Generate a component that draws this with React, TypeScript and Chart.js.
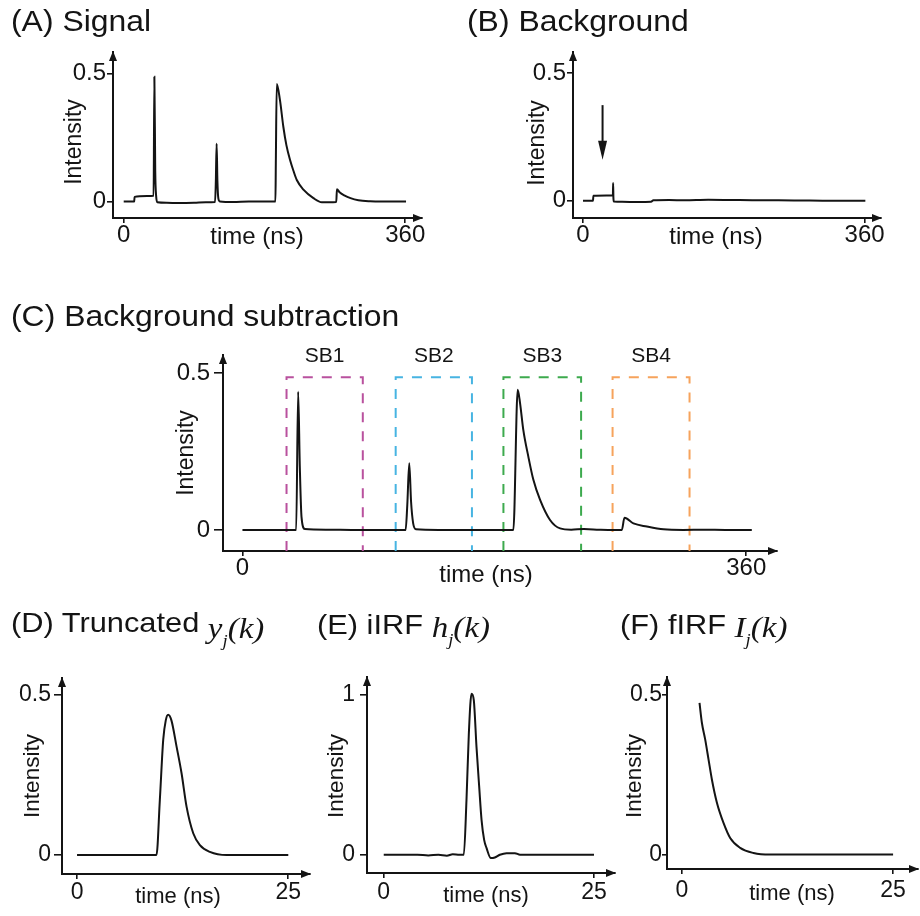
import React, { useEffect, useRef } from 'react';
import { Chart, registerables } from 'chart.js';

Chart.register(...registerables);

const SANS = '"Liberation Sans", Arial, Helvetica, sans-serif';
const SERIF = '"Liberation Serif", "Times New Roman", serif';
const INK = '#141414';

// ---------- data ----------
// (A) Signal
const signalTime = [0, 13.5, 13.8, 30, 38.2, 39.2, 40.3, 41.5, 43, 55, 70, 90, 105, 116.8, 117.8, 118.8, 119.8, 121, 123, 140, 160, 180, 194, 194.5, 195.7, 199.8, 204.1, 208, 212.7, 217, 221.3, 229.8, 242.6, 253.3, 262, 271.8, 272.6, 276, 282, 290, 300, 315, 330, 361];
const signalValue = [0, 0, 0.018, 0.021, 0.022, 0.487, 0.12, 0.02, -0.003, -0.005, -0.006, -0.005, -0.003, -0.002, 0.08, 0.226, 0.08, 0.012, 0, -0.002, 0, 0, 0, 0.15, 0.459, 0.396, 0.292, 0.22, 0.162, 0.12, 0.084, 0.046, 0.013, -0.003, -0.003, -0.002, 0.048, 0.036, 0.024, 0.013, 0.005, 0.001, 0, 0];

// (B) Background
const bgTime = [0, 12.8, 13.2, 30, 38.2, 38.5, 38.9, 39.4, 50, 70, 87, 90, 110, 130, 160, 190, 220, 250, 280, 310, 340, 361];
const bgValue = [0, 0, 0.0195, 0.021, 0.021, 0.069, 0.01, -0.003, -0.004, -0.005, -0.004, 0.002, 0.003, 0.002, 0.004, 0.003, 0.002, 0.002, 0.001, 0, 0, 0];
const bgArrowTime = 25;
const bgArrowFrom = 0.374;
const bgArrowTo = 0.16;

// (C) Background subtraction
const subTime = [0, 20, 38.4, 39.8, 41, 42.2, 44.6, 60, 80, 100, 116.6, 117.8, 119.2, 120.5, 122, 124, 140, 160, 180, 193.6, 196.7, 198.4, 200.7, 204.3, 207.9, 212.7, 219.8, 227, 235, 244, 255, 265, 271.1, 273, 279.4, 289, 300.9, 315, 330, 345, 364];
const subValue = [0, 0, 0, 0.441, 0.2, 0.042, 0.003, 0.001, 0, 0, 0, 0.08, 0.213, 0.09, 0.021, 0.002, 0, 0, 0, 0, 0.447, 0.404, 0.319, 0.234, 0.16, 0.096, 0.032, 0.005, 0.001, 0.003, 0.001, 0, 0, 0.039, 0.021, 0.011, 0.002, 0, 0.001, 0, 0];
const sbLabels = ['SB1', 'SB2', 'SB3', 'SB4'];
const sbStart = [31.5, 109.5, 186.5, 264.5];
const sbEnd = [86, 164, 242, 319.5];
const sbTop = 0.487;
const sbColors = ['#b9519e', '#47b4e2', '#3daa4e', '#f6a35c'];

// (D) Truncated y_j(k)
const truncTime = [0, 9.4, 9.8, 10.2, 10.5, 10.78, 11.17, 11.78, 12.37, 12.96, 13.75, 14.54, 15.72, 17.7, 20, 22.5, 25];
const truncValue = [0, 0, 0.172, 0.36, 0.42, 0.4375, 0.42, 0.338, 0.255, 0.151, 0.068, 0.031, 0.01, 0, 0, 0, 0];

// (E) iIRF h_j(k)
const iirfTime = [0, 4, 5.3, 6.5, 7.5, 8.2, 9.0, 9.52, 9.84, 10.12, 10.44, 10.71, 11.03, 11.35, 11.63, 11.94, 12.23, 12.74, 13.21, 13.81, 14.6, 15.6, 16.2, 20, 25];
const iirfValue = [0, 0, -0.004, 0, -0.006, 0.003, 0, 0, 0.342, 0.757, 1.006, 0.965, 0.674, 0.425, 0.218, 0.093, 0.041, -0.021, -0.017, 0.0, 0.01, 0.01, 0, 0, 0];

// (F) fIRF I_j(k)
const firfTime = [2.08, 2.36, 2.75, 3.15, 3.55, 4.14, 4.92, 5.71, 6.89, 8.47, 10.4, 15, 20, 25];
const firfValue = [0.474, 0.412, 0.36, 0.297, 0.234, 0.162, 0.099, 0.052, 0.021, 0.005, 0, 0, 0, 0];

// ticks
const longTicks = [0, 360];
const longTickLabels = ['0', '360'];
const shortTicks = [0, 25];
const shortTickLabels = ['0', '25'];
const halfTicks = [0, 0.5];
const halfTickLabels = ['0', '0.5'];
const unitTicks = [0, 1];
const unitTickLabels = ['0', '1'];
const xAxisTitle = 'time (ns)';
const yAxisTitle = 'Intensity';

// ---------- plugin ----------
const decoPlugin = {
  id: 'deco',
  afterDraw(chart: any, _args: any, o: any) {
    const { ctx, chartArea: ca, scales } = chart;
    const xs = scales.x;
    const ys = scales.y;
    ctx.save();
    ctx.fillStyle = INK;
    ctx.strokeStyle = INK;
    // axis arrowheads
    ctx.beginPath();
    ctx.moveTo(ca.right + 1, ca.bottom);
    ctx.lineTo(ca.right - 9, ca.bottom - 4);
    ctx.lineTo(ca.right - 9, ca.bottom + 4);
    ctx.closePath();
    ctx.fill();
    ctx.beginPath();
    ctx.moveTo(ca.left, ca.top - 1);
    ctx.lineTo(ca.left - 4, ca.top + 9);
    ctx.lineTo(ca.left + 4, ca.top + 9);
    ctx.closePath();
    ctx.fill();
    // axis titles
    ctx.textAlign = 'center';
    ctx.textBaseline = 'middle';
    ctx.font = `${o.xTitleSize}px ${SANS}`;
    ctx.fillText(o.xTitle, o.xTitleX, o.xTitleY);
    ctx.save();
    ctx.translate(o.yTitleX, o.yTitleY);
    ctx.rotate(-Math.PI / 2);
    ctx.font = `${o.yTitleSize}px ${SANS}`;
    ctx.fillText(o.yTitle, 0, 0);
    ctx.restore();
    // box labels
    if (o.boxes) {
      ctx.font = `${o.boxes.size}px ${SANS}`;
      o.boxes.labels.forEach((lab: string, i: number) => {
        const cx = (xs.getPixelForValue(o.boxes.start[i]) + xs.getPixelForValue(o.boxes.end[i])) / 2;
        const cy = ys.getPixelForValue(o.boxes.top) - o.boxes.gap;
        ctx.fillText(lab, cx, cy);
      });
    }
    // annotation arrow
    if (o.arrow) {
      const ax = xs.getPixelForValue(o.arrow.t);
      const y1 = ys.getPixelForValue(o.arrow.from);
      const y2 = ys.getPixelForValue(o.arrow.to);
      const hl = 19;
      ctx.lineWidth = 2;
      ctx.beginPath();
      ctx.moveTo(ax, y1);
      ctx.lineTo(ax, y2 - hl + 2);
      ctx.stroke();
      ctx.beginPath();
      ctx.moveTo(ax, y2);
      ctx.lineTo(ax - 4.5, y2 - hl);
      ctx.lineTo(ax + 4.5, y2 - hl);
      ctx.closePath();
      ctx.fill();
    }
    ctx.restore();
  },
};

// ---------- panels ----------
type Panel = {
  key: string;
  time: number[];
  value: number[];
  area: { l: number; t: number; r: number; b: number };
  x: { min: number; max: number; ticks: number[]; labels: string[] };
  y: { min: number; max: number; ticks: number[]; labels: string[] };
  tickSize: number;
  xPad: number;
  xTickLen: number;
  yPad: number;
  yTickLen: number;
  deco: any;
  boxes?: boolean;
};

const panels: Panel[] = [
  {
    key: 'A', time: signalTime, value: signalValue,
    area: { l: 113, t: 52, r: 422, b: 218 },
    x: { min: -13.7, max: 381.4, ticks: longTicks, labels: longTickLabels },
    y: { min: -0.0646, max: 0.5841, ticks: halfTicks, labels: halfTickLabels },
    tickSize: 24, xPad: 0, xTickLen: 5, yPad: 1, yTickLen: 6,
    deco: { xTitle: xAxisTitle, xTitleX: 257, xTitleY: 237, xTitleSize: 24, yTitle: yAxisTitle, yTitleX: 75, yTitleY: 142, yTitleSize: 23 },
  },
  {
    key: 'B', time: bgTime, value: bgValue,
    area: { l: 573, t: 52, r: 881, b: 218 },
    x: { min: -12.8, max: 381, ticks: longTicks, labels: longTickLabels },
    y: { min: -0.0674, max: 0.5818, ticks: halfTicks, labels: halfTickLabels },
    tickSize: 24, xPad: 0, xTickLen: 5, yPad: 1, yTickLen: 6,
    deco: {
      xTitle: xAxisTitle, xTitleX: 716, xTitleY: 237, xTitleSize: 24, yTitle: yAxisTitle, yTitleX: 538, yTitleY: 143, yTitleSize: 23,
      arrow: { t: bgArrowTime, from: bgArrowFrom, to: bgArrowTo },
    },
  },
  {
    key: 'C', time: subTime, value: subValue,
    area: { l: 223, t: 355, r: 777, b: 551 },
    x: { min: -13.9, max: 382, ticks: longTicks, labels: longTickLabels },
    y: { min: -0.067, max: 0.558, ticks: halfTicks, labels: halfTickLabels },
    tickSize: 24, xPad: 0, xTickLen: 5, yPad: 4, yTickLen: 9,
    boxes: true,
    deco: {
      xTitle: xAxisTitle, xTitleX: 486, xTitleY: 575, xTitleSize: 24, yTitle: yAxisTitle, yTitleX: 187, yTitleY: 453, yTitleSize: 23,
      boxes: { labels: sbLabels, start: sbStart, end: sbEnd, top: sbTop, gap: 21, size: 21 },
    },
  },
  {
    key: 'D', time: truncTime, value: truncValue,
    area: { l: 62, t: 678, r: 310, b: 874 },
    x: { min: -1.78, max: 27.57, ticks: shortTicks, labels: shortTickLabels },
    y: { min: -0.059, max: 0.552, ticks: halfTicks, labels: halfTickLabels },
    tickSize: 23, xPad: 2, xTickLen: 5, yPad: 3, yTickLen: 8,
    deco: { xTitle: xAxisTitle, xTitleX: 178, xTitleY: 897, xTitleSize: 22, yTitle: yAxisTitle, yTitleX: 33, yTitleY: 776, yTitleSize: 22.5 },
  },
  {
    key: 'E', time: iirfTime, value: iirfValue,
    area: { l: 367, t: 677, r: 615, b: 873 },
    x: { min: -1.99, max: 27.5, ticks: shortTicks, labels: shortTickLabels },
    y: { min: -0.114, max: 1.11, ticks: unitTicks, labels: unitTickLabels },
    tickSize: 23, xPad: 3, xTickLen: 5, yPad: 5, yTickLen: 7,
    deco: { xTitle: xAxisTitle, xTitleX: 486, xTitleY: 896, xTitleSize: 22, yTitle: yAxisTitle, yTitleX: 337, yTitleY: 776, yTitleSize: 22.5 },
  },
  {
    key: 'F', time: firfTime, value: firfValue,
    area: { l: 667, t: 677, r: 918, b: 869 },
    x: { min: -1.77, max: 27.95, ticks: shortTicks, labels: shortTickLabels },
    y: { min: -0.045, max: 0.555, ticks: halfTicks, labels: halfTickLabels },
    tickSize: 23, xPad: 5, xTickLen: 5, yPad: 0, yTickLen: 5,
    deco: { xTitle: xAxisTitle, xTitleX: 792, xTitleY: 894, xTitleSize: 22, yTitle: yAxisTitle, yTitleX: 635, yTitleY: 776, yTitleSize: 22.5 },
  },
];

const W = 920;
const H = 916;
const Y_BOX = 58;
const X_BOX = 40;

function makeConfig(p: Panel): any {
  const datasets: any[] = [
    {
      data: p.time.map((t, i) => ({ x: t, y: p.value[i] })),
      borderColor: INK,
      borderWidth: 2,
      pointRadius: 0,
      fill: false,
      cubicInterpolationMode: 'monotone',
      order: 0,
    },
  ];
  if (p.boxes) {
    sbLabels.forEach((_l, i) => {
      datasets.push({
        data: [
          { x: sbStart[i], y: p.y.min },
          { x: sbStart[i], y: sbTop },
          { x: sbEnd[i], y: sbTop },
          { x: sbEnd[i], y: p.y.min },
        ],
        borderColor: sbColors[i],
        borderWidth: 2,
        borderDash: [10, 9],
        pointRadius: 0,
        fill: false,
        tension: 0,
        order: 1,
      });
    });
  }
  const tickFont = { family: SANS, size: p.tickSize, lineHeight: 1 };
  return {
    type: 'line',
    data: { datasets },
    options: {
      responsive: false,
      animation: false,
      devicePixelRatio: 1,
      events: [],
      layout: {
        autoPadding: false,
        padding: {
          left: p.area.l - Y_BOX,
          top: p.area.t,
          right: W - p.area.r,
          bottom: H - p.area.b - X_BOX,
        },
      },
      plugins: {
        legend: { display: false },
        tooltip: { enabled: false },
        deco: p.deco,
      },
      scales: {
        x: {
          type: 'linear',
          min: p.x.min,
          max: p.x.max,
          afterBuildTicks: (s: any) => {
            s.ticks = p.x.ticks.map((value) => ({ value }));
          },
          afterFit: (s: any) => {
            s.height = X_BOX;
          },
          ticks: {
            callback: (_v: any, i: number) => p.x.labels[i],
            font: tickFont,
            color: INK,
            padding: p.xPad,
            maxRotation: 0,
            minRotation: 0,
            autoSkip: false,
          },
          grid: { display: true, drawOnChartArea: false, drawTicks: true, tickLength: p.xTickLen, color: INK, lineWidth: 1.6 },
          border: { display: true, color: INK, width: 2 },
        },
        y: {
          type: 'linear',
          position: 'left',
          min: p.y.min,
          max: p.y.max,
          afterBuildTicks: (s: any) => {
            s.ticks = p.y.ticks.map((value) => ({ value }));
          },
          afterFit: (s: any) => {
            s.width = Y_BOX;
          },
          ticks: {
            callback: (_v: any, i: number) => p.y.labels[i],
            font: tickFont,
            color: INK,
            padding: p.yPad,
            autoSkip: false,
          },
          grid: { display: true, drawOnChartArea: false, drawTicks: true, tickLength: p.yTickLen, color: INK, lineWidth: 1.6 },
          border: { display: true, color: INK, width: 2 },
        },
      },
    },
    plugins: [decoPlugin],
  };
}

function PanelChart({ p }: { p: Panel }) {
  const ref = useRef<HTMLCanvasElement | null>(null);
  useEffect(() => {
    if (!ref.current) return;
    const chart = new Chart(ref.current, makeConfig(p));
    return () => chart.destroy();
  }, [p]);
  return (
    <canvas
      ref={ref}
      width={W}
      height={H}
      style={{ position: 'absolute', left: 0, top: 0, width: W, height: H }}
    />
  );
}

type TitleSpec = {
  text: string;
  left: number;
  top: number;
  size: number;
  math?: { base: string; sub: string; rest: string; size: number; shift: number; subSize: number; subShift: number };
};

const titles: TitleSpec[] = [
  { text: '(A) Signal', left: 11, top: 7, size: 29 },
  { text: '(B) Background', left: 467, top: 7, size: 29 },
  { text: '(C) Background subtraction', left: 11, top: 302, size: 29 },
  { text: '(D) Truncated ', left: 11, top: 609, size: 28, math: { base: 'y', sub: 'j', rest: '(k)', size: 30, shift: 6, subSize: 17, subShift: 8 } },
  { text: '(E) iIRF ', left: 317, top: 611, size: 28, math: { base: 'h', sub: 'j', rest: '(k)', size: 30, shift: 3, subSize: 17, subShift: 8 } },
  { text: '(F) fIRF ', left: 620, top: 611, size: 28, math: { base: 'I', sub: 'j', rest: '(k)', size: 30, shift: 3, subSize: 17, subShift: 8 } },
];

function PanelTitle({ t }: { t: TitleSpec }) {
  return (
    <div
      style={{
        position: 'absolute',
        left: t.left,
        top: t.top,
        fontFamily: SANS,
        fontSize: t.size,
        lineHeight: 1,
        whiteSpace: 'pre',
        color: INK,
        transform: 'scaleX(1.1)',
        transformOrigin: '0 0',
      }}
    >
      {t.text}
      {t.math && (
        <span
          style={{
            fontFamily: SERIF,
            fontStyle: 'italic',
            fontSize: t.math.size,
            position: 'relative',
            top: t.math.shift,
            lineHeight: 0,
          }}
        >
          {t.math.base}
          <span style={{ fontSize: t.math.subSize, position: 'relative', top: t.math.subShift, lineHeight: 0 }}>{t.math.sub}</span>
          {t.math.rest}
        </span>
      )}
    </div>
  );
}

export default function App() {
  return (
    <div style={{ position: 'absolute', left: 0, top: 0, width: W, height: H, background: '#fff', overflow: 'hidden' }}>
      {panels.map((p) => (
        <PanelChart key={p.key} p={p} />
      ))}
      {titles.map((t) => (
        <PanelTitle key={t.text} t={t} />
      ))}
    </div>
  );
}
